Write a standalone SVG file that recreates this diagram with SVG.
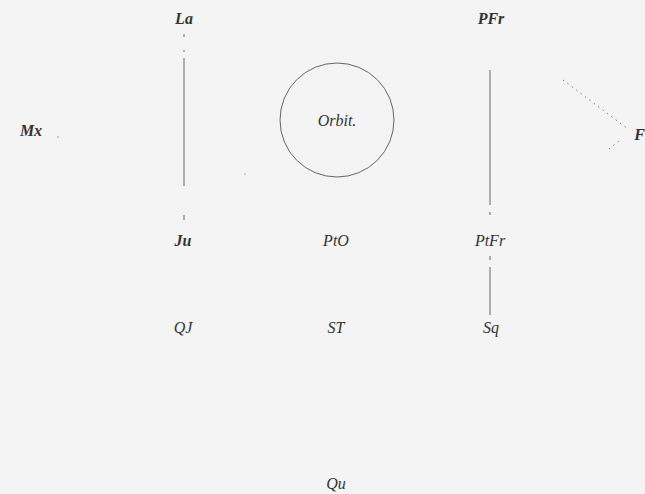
<svg xmlns="http://www.w3.org/2000/svg" width="645" height="494" viewBox="0 0 645 494">
<style>
text{font-family:"Liberation Serif","DejaVu Serif",serif;font-style:italic;font-size:16px;fill:#333;text-anchor:middle}
.b{font-weight:bold}
.ln{stroke:#666;stroke-width:1;fill:none}
.dt{stroke:#777;stroke-width:1;stroke-dasharray:1.5 4;fill:none}
</style>
<rect width="645" height="494" fill="#f4f4f4"/>
<g id="connectors">
<line class="ln" x1="184" y1="34" x2="184" y2="37"/>
<line class="ln" x1="184" y1="50" x2="184" y2="52"/>
<line class="ln" x1="184" y1="58" x2="184" y2="186"/>
<line class="ln" x1="184" y1="215" x2="184" y2="220"/>
<line class="ln" x1="490" y1="70" x2="490" y2="205"/>
<line class="ln" x1="490" y1="212" x2="490" y2="215"/>
<line class="ln" x1="490" y1="256" x2="490" y2="260"/>
<line class="ln" x1="490" y1="267" x2="490" y2="315"/>
<line class="dt" x1="563" y1="80" x2="628" y2="129"/>
<line class="dt" x1="609" y1="149" x2="619" y2="141"/>
<circle cx="58" cy="137" r="0.7" fill="#777"/>
<circle cx="245" cy="174" r="0.7" fill="#999"/>
</g>
<g id="orbit"><circle class="ln" cx="337" cy="120" r="57" stroke="#777" stroke-width="1.3"/><text x="337" y="126">Orbit.</text></g>
<g id="La"><text x="184" y="24" class="b">La</text></g>
<g id="PFr"><text x="491" y="24" class="b">PFr</text></g>
<g id="Mx"><text x="31" y="136" class="b">Mx</text></g>
<g id="Fr"><text x="645" y="140" class="b" style="text-anchor:end">F</text></g>
<g id="Ju"><text x="183" y="246" class="b">Ju</text></g>
<g id="PtO"><text x="336" y="246">PtO</text></g>
<g id="PtFr"><text x="490" y="246">PtFr</text></g>
<g id="QJ"><text x="183" y="333">QJ</text></g>
<g id="ST"><text x="336" y="333">ST</text></g>
<g id="Sq"><text x="491" y="333">Sq</text></g>
<g id="Qu"><text x="336" y="489">Qu</text></g>
</svg>
